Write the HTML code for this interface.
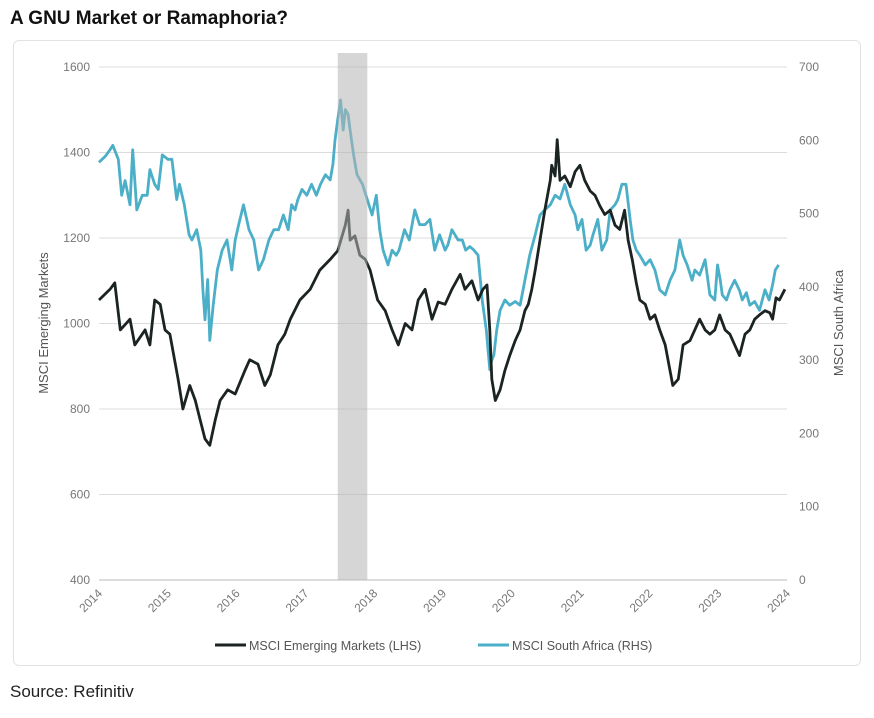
<!DOCTYPE html>
<html><head><meta charset="utf-8"><style>
body{margin:0;background:#fff;width:874px;height:718px;overflow:hidden;font-family:"Liberation Sans",sans-serif;}
</style></head><body>
<div style="position:absolute;left:10px;top:8px;font-size:19px;font-weight:bold;color:#111;">A GNU Market or Ramaphoria?</div>
<div style="position:absolute;left:13px;top:40px;width:846px;height:624px;border:1px solid #e2e2e2;border-radius:6px;"></div>
<div style="position:absolute;left:10px;top:682px;font-size:17px;color:#222;">Source: Refinitiv</div>
<svg id="chart" width="874" height="718" style="position:absolute;left:0;top:0;"></svg>
<script>
const emDates=[0,.16,.23,.31,.45,.52,.67,.74,.81,.89,.96,1.03,1.15,1.22,1.32,1.40,1.47,1.54,1.61,1.69,1.76,1.87,1.98,2.12,2.19,2.31,2.41,2.49,2.60,2.70,2.78,2.92,3.07,3.21,3.36,3.47,3.58,3.62,3.65,3.72,3.79,3.87,3.94,4.05,4.16,4.26,4.35,4.45,4.55,4.64,4.74,4.84,4.93,5.03,5.13,5.25,5.32,5.42,5.51,5.58,5.64,5.68,5.71,5.76,5.83,5.90,5.97,6.05,6.12,6.19,6.24,6.29,6.34,6.41,6.48,6.56,6.58,6.63,6.66,6.70,6.77,6.85,6.92,6.99,7.06,7.14,7.21,7.28,7.35,7.43,7.50,7.57,7.64,7.69,7.75,7.81,7.86,7.94,8.01,8.08,8.15,8.23,8.30,8.34,8.42,8.49,8.59,8.66,8.73,8.81,8.88,8.95,9.02,9.10,9.17,9.24,9.31,9.39,9.46,9.53,9.60,9.68,9.75,9.79,9.84,9.89,9.97];
const emValues=[1055,1080,1095,985,1010,950,985,950,1055,1045,985,975,870,800,855,820,775,730,715,775,820,845,835,890,915,905,855,880,950,975,1010,1055,1080,1125,1150,1170,1230,1265,1195,1205,1160,1150,1125,1055,1030,985,950,1000,985,1055,1080,1010,1050,1045,1080,1115,1080,1100,1055,1080,1090,985,870,820,845,890,925,960,985,1030,1045,1080,1125,1195,1265,1335,1370,1345,1430,1335,1345,1320,1355,1370,1335,1310,1300,1275,1255,1265,1230,1220,1265,1195,1150,1095,1055,1045,1010,1020,985,950,890,855,870,950,960,985,1010,985,975,985,1020,985,975,950,925,975,985,1010,1020,1030,1025,1010,1060,1055,1080];
const saDates=[0,.09,.16,.20,.28,.33,.38,.45,.49,.55,.63,.70,.74,.81,.86,.92,1.00,1.06,1.13,1.17,1.24,1.31,1.35,1.42,1.48,1.51,1.54,1.58,1.61,1.64,1.66,1.72,1.79,1.86,1.93,1.98,2.03,2.10,2.18,2.25,2.32,2.39,2.47,2.54,2.61,2.68,2.75,2.80,2.85,2.89,2.95,3.02,3.09,3.16,3.22,3.29,3.36,3.40,3.43,3.47,3.51,3.55,3.58,3.62,3.65,3.70,3.75,3.83,3.90,3.97,4.03,4.08,4.13,4.20,4.26,4.32,4.36,4.44,4.51,4.59,4.66,4.74,4.81,4.88,4.95,5.03,5.07,5.13,5.22,5.28,5.33,5.39,5.45,5.51,5.57,5.63,5.68,5.71,5.74,5.78,5.83,5.90,5.97,6.05,6.12,6.19,6.26,6.34,6.41,6.48,6.56,6.63,6.70,6.77,6.85,6.92,6.96,7.02,7.08,7.14,7.18,7.25,7.31,7.38,7.43,7.50,7.54,7.60,7.66,7.72,7.76,7.81,7.86,7.94,8.01,8.08,8.15,8.23,8.30,8.37,8.44,8.49,8.55,8.62,8.66,8.73,8.81,8.88,8.95,8.99,9.03,9.06,9.12,9.17,9.24,9.31,9.35,9.41,9.46,9.53,9.60,9.68,9.74,9.79,9.83,9.88,9.91];
const saValues=[570,578,587,593,574,525,545,512,587,505,525,525,560,540,533,580,574,574,519,540,512,471,464,478,450,396,355,410,327,355,375,423,450,464,423,464,485,512,478,464,423,437,464,478,478,498,478,512,505,519,533,525,540,525,540,553,546,567,600,628,655,614,642,635,614,580,553,540,519,498,525,478,450,430,450,443,450,478,464,505,485,485,492,450,471,450,457,478,464,464,450,455,450,443,382,341,287,300,307,341,368,382,375,380,375,409,443,471,498,505,512,525,520,540,512,498,478,492,450,457,471,492,450,464,505,512,519,540,540,492,464,450,443,430,437,423,396,389,409,423,464,443,430,409,423,416,437,389,382,430,409,389,382,396,409,395,382,392,375,380,368,396,382,403,423,430];
const emTicks=[400,600,800,1000,1200,1400,1600];
const saTicks=[0,100,200,300,400,500,600,700];
const yearTicks=[2014,2015,2016,2017,2018,2019,2020,2021,2022,2023,2024];
const shadeRange=[2017.47,2017.9];

const L=99,R=787,T=67,B=580;
const xs=y=>L+(y-2014)/10*(R-L);
const yl=v=>B-(v-400)/1200*(B-T);
const yr=v=>B-v/700*(B-T);
const svg=document.getElementById('chart');
const NS='http://www.w3.org/2000/svg';
function mk(tag,attrs,parent){const e=document.createElementNS(NS,tag);for(const k in attrs)e.setAttribute(k,attrs[k]);(parent||svg).appendChild(e);return e;}
emTicks.forEach(t=>{
  const y=yl(t);
  const g=mk('line',{x1:L,x2:R,y1:y,y2:y,stroke:t===400?'#bbb':'#dcdcdc','stroke-width':1});
  
  
  const tx=mk('text',{x:L-9,y:y+4,'text-anchor':'end','font-size':12,fill:'#777','font-family':'Liberation Sans'});
  tx.textContent=t;
  
  
});
saTicks.forEach(t=>{
  const tx=mk('text',{x:R+12,y:yr(t)+4,'text-anchor':'start','font-size':12,fill:'#777','font-family':'Liberation Sans'});
  tx.textContent=t;
  
  
});
yearTicks.forEach(t=>{
  const x=xs(t);
  const tx=mk('text',{x:x+4,y:B+14,'text-anchor':'end','font-size':12,fill:'#777','font-family':'Liberation Sans',transform:`rotate(-45 ${x+4} ${B+14})`});
  tx.textContent=t;
  
  
});
function path(dates,vals,sc){return dates.map((d,i)=>(i?'L':'M')+xs(2014+d).toFixed(1)+' '+sc(vals[i]).toFixed(1)).join(' ');}
const sa=mk('path',{d:path(saDates,saValues,yr),fill:'none',stroke:'#4bafc8','stroke-width':2.8,'stroke-linejoin':'round'});


const em=mk('path',{d:path(emDates,emValues,yl),fill:'none',stroke:'#1c2323','stroke-width':2.8,'stroke-linejoin':'round'});


const sh=mk('rect',{x:xs(shadeRange[0]),y:T-14,width:xs(shadeRange[1])-xs(shadeRange[0]),height:B-T+14,fill:'rgba(180,180,180,0.55)'});


const a1=mk('text',{x:0,y:0,'text-anchor':'middle','font-size':13,fill:'#555','font-family':'Liberation Sans',transform:'translate(48 323) rotate(-90)'});
a1.textContent='MSCI Emerging Markets';


const a2=mk('text',{x:0,y:0,'text-anchor':'middle','font-size':13,fill:'#555','font-family':'Liberation Sans',transform:'translate(843 323) rotate(-90)'});
a2.textContent='MSCI South Africa';


const l1=mk('line',{x1:215,x2:246,y1:645,y2:645,stroke:'#1c2323','stroke-width':3});


const t1=mk('text',{x:249,y:650,'font-size':12.5,fill:'#555','font-family':'Liberation Sans'});
t1.textContent='MSCI Emerging Markets (LHS)';


const l2=mk('line',{x1:478,x2:509,y1:645,y2:645,stroke:'#4bafc8','stroke-width':3});


const t2=mk('text',{x:512,y:650,'font-size':12.5,fill:'#555','font-family':'Liberation Sans'});
t2.textContent='MSCI South Africa (RHS)';


</script>
</body></html>
